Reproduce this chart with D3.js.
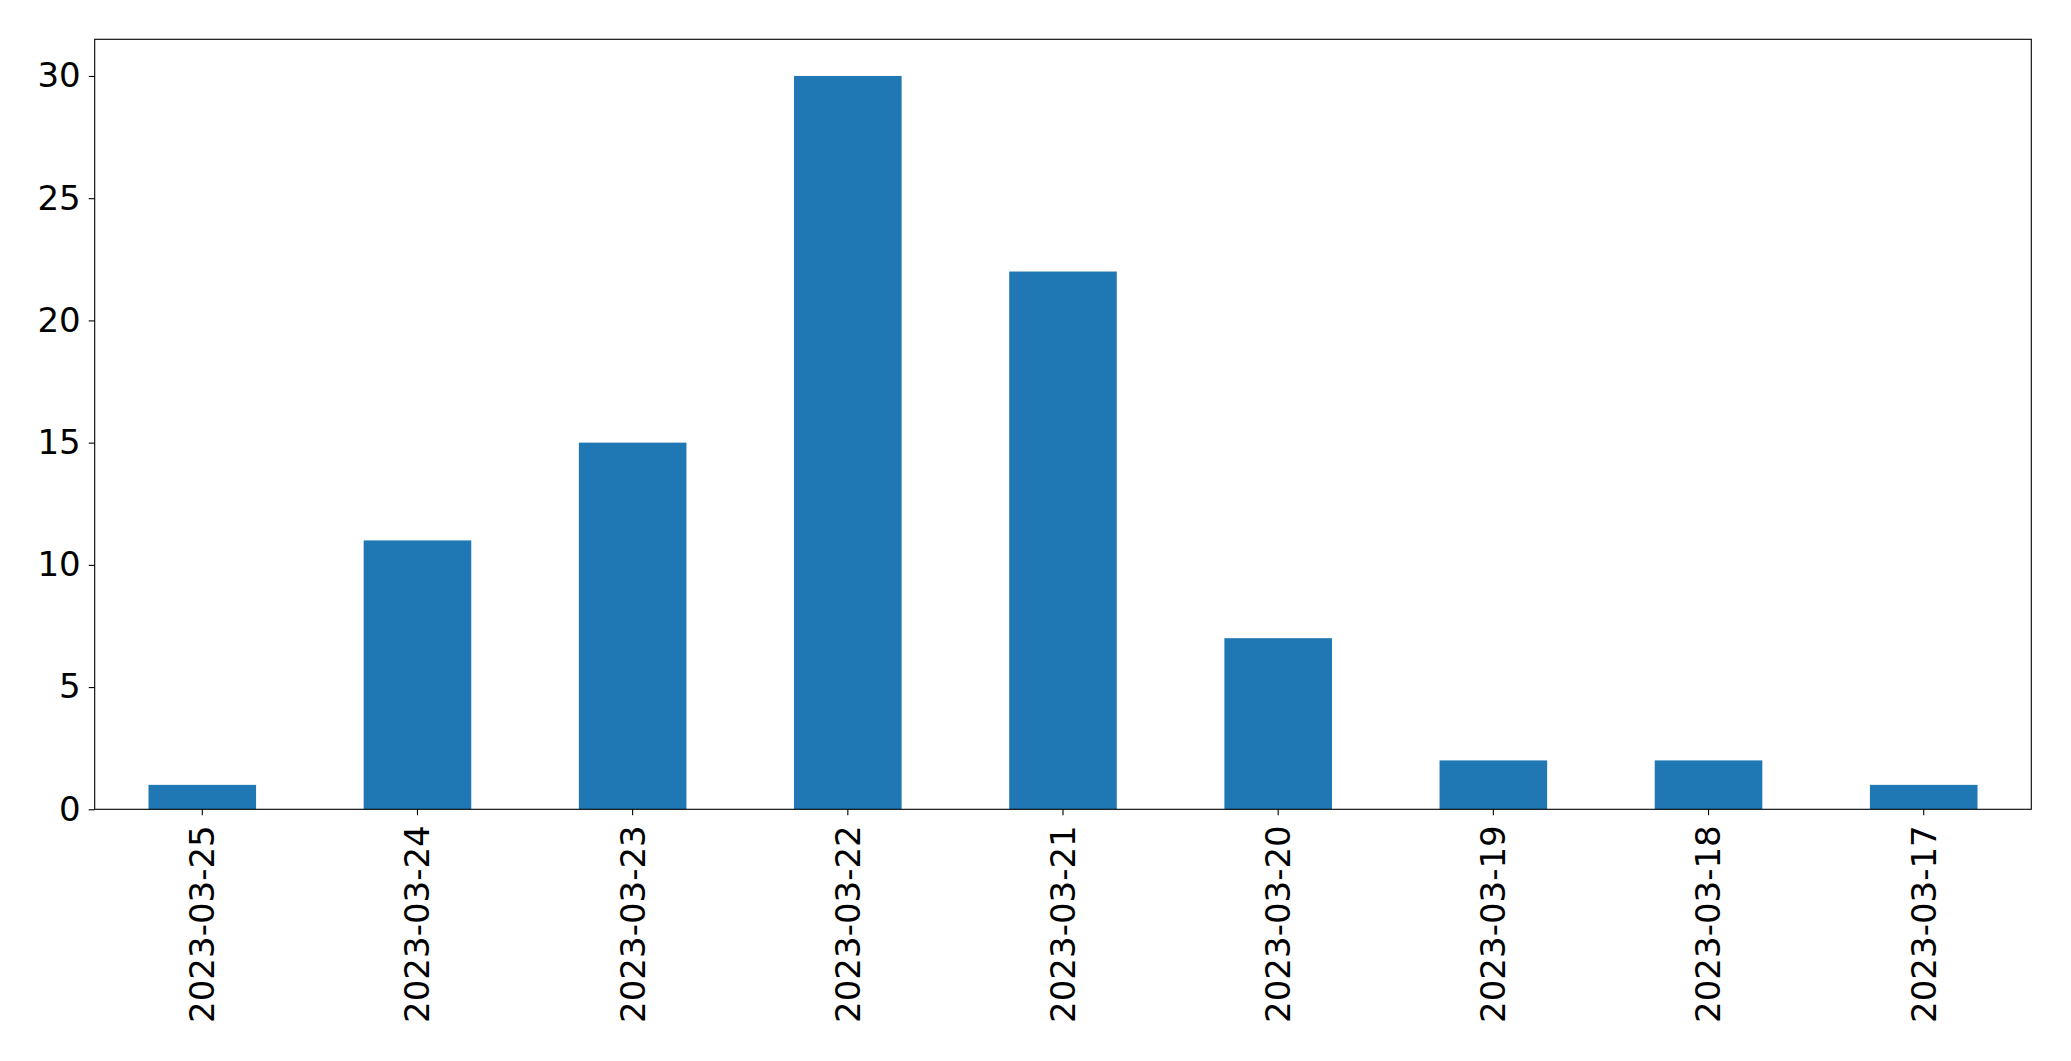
<!DOCTYPE html>
<html>
<head>
<meta charset="utf-8">
<script src="https://cdn.jsdelivr.net/npm/d3@7"></script>
<style>
  html, body { margin: 0; padding: 0; background: #fff; }
  svg { display: block; }
  text { font-family: "DejaVu Sans", sans-serif; fill: #000; }
</style>
</head>
<body>
<svg id="chart" width="2071" height="1061"></svg>
<script>
const categories = ["2023-03-25","2023-03-24","2023-03-23","2023-03-22","2023-03-21","2023-03-20","2023-03-19","2023-03-18","2023-03-17"];
const values = [1, 11, 15, 30, 22, 7, 2, 2, 1];
const yTicks = [0, 5, 10, 15, 20, 25, 30];

const W = 2071, H = 1061;
const m = { left: 94.7, right: W - 2031.3, top: 39.3, bottom: H - 809.3 };
const svg = d3.select("#chart");

const x = d3.scaleBand().domain(categories).range([m.left, W - m.right]).paddingInner(0.5).paddingOuter(0.25);
const y = d3.scaleLinear().domain([0, 31.5]).range([H - m.bottom, m.top]);

svg.append("g").selectAll("rect").data(values).join("rect")
  .attr("x", (d, i) => x(categories[i]))
  .attr("y", d => y(d))
  .attr("width", x.bandwidth())
  .attr("height", d => y(0) - y(d))
  .attr("fill", "#1f77b4");

const fs = 34;
const yAxis = svg.append("g").attr("transform", `translate(${m.left},0)`)
  .call(d3.axisLeft(y).tickValues(yTicks).tickSize(6).tickPadding(8).tickFormat(d3.format("d")));
yAxis.select(".domain").remove();
yAxis.selectAll("line").attr("stroke", "#000").attr("stroke-width", 1.1);
yAxis.selectAll("text").style("font-size", fs + "px").attr("font-family", "DejaVu Sans");

const xAxis = svg.append("g").attr("transform", `translate(0,${H - m.bottom})`)
  .call(d3.axisBottom(x).tickSize(6).tickSizeOuter(0));
xAxis.select(".domain").remove();
xAxis.selectAll("line").attr("stroke", "#000").attr("stroke-width", 1.1);
xAxis.selectAll("text")
  .style("font-size", fs + "px").attr("font-family", "DejaVu Sans")
  .attr("text-anchor", "end")
  .attr("transform", "rotate(-90)")
  .attr("x", -16).attr("y", 0).attr("dy", "0.35em");

svg.append("rect")
  .attr("x", m.left).attr("y", m.top)
  .attr("width", W - m.left - m.right).attr("height", H - m.top - m.bottom)
  .attr("fill", "none").attr("stroke", "#000").attr("stroke-width", 1.1);
</script>
</body>
</html>
